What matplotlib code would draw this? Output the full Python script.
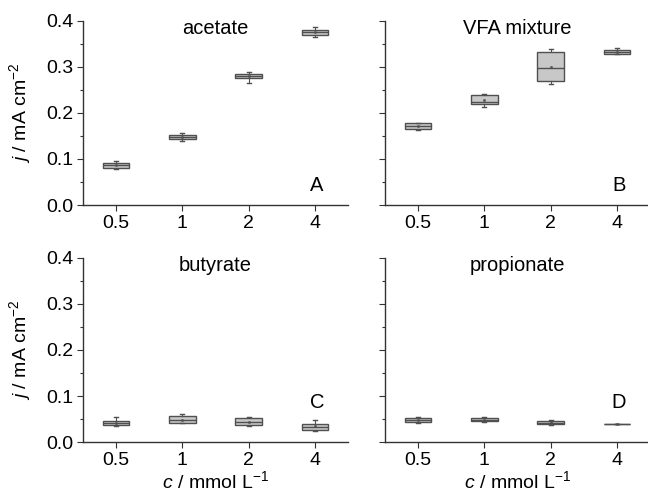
import matplotlib
matplotlib.use("Agg")
import matplotlib.pyplot as plt
from matplotlib.ticker import MultipleLocator, FormatStrFormatter

plt.rcParams['font.family'] = ['Liberation Sans', 'DejaVu Sans']
plt.rcParams['mathtext.fontset'] = 'custom'
plt.rcParams['mathtext.rm'] = 'Liberation Sans'
plt.rcParams['mathtext.it'] = 'Liberation Sans:italic'
plt.rcParams['axes.unicode_minus'] = False

conc_labels = ['0.5', '1', '2', '4']
panel_names = ['acetate', 'VFA mixture', 'butyrate', 'propionate']
panel_letters = ['A', 'B', 'C', 'D']

# per box: whislo, q1, med, q3, whishi, mean
acetate = [
    [0.078, 0.081, 0.086, 0.091, 0.096, 0.086],
    [0.140, 0.1435, 0.148, 0.152, 0.157, 0.148],
    [0.2645, 0.275, 0.279, 0.284, 0.289, 0.279],
    [0.364, 0.370, 0.375, 0.380, 0.386, 0.375],
]
vfa = [
    [0.163, 0.164, 0.172, 0.179, 0.179, 0.172],
    [0.212, 0.2196, 0.2246, 0.239, 0.241, 0.228],
    [0.263, 0.269, 0.297, 0.333, 0.338, 0.299],
    [0.3275, 0.328, 0.333, 0.337, 0.341, 0.333],
]
butyrate = [
    [0.035, 0.0374, 0.0417, 0.0468, 0.0554, 0.042],
    [0.041, 0.0424, 0.048, 0.0568, 0.061, 0.049],
    [0.0345, 0.0367, 0.044, 0.0518, 0.055, 0.044],
    [0.0245, 0.0266, 0.0338, 0.0388, 0.048, 0.034],
]
propionate = [
    [0.0425, 0.0445, 0.048, 0.0518, 0.054, 0.048],
    [0.043, 0.0454, 0.048, 0.0525, 0.054, 0.049],
    [0.038, 0.0395, 0.0425, 0.0467, 0.048, 0.043],
    [0.0388, 0.0393, 0.0395, 0.0397, 0.0402, 0.0395],
]
all_data = [acetate, vfa, butyrate, propionate]

fig = plt.figure(figsize=(6.48, 4.94), dpi=100)
w, h = 0.409, 0.373
positions = [
    (0.128, 0.585), (0.594, 0.585),
    (0.128, 0.105), (0.594, 0.105),
]
letter_y = [0.043, 0.043, 0.087, 0.087]

edge = '#505050'
for i, (x0, y0) in enumerate(positions):
    ax = fig.add_axes([x0, y0, w, h])
    stats = []
    for row in all_data[i]:
        stats.append(dict(whislo=row[0], q1=row[1], med=row[2], q3=row[3],
                          whishi=row[4], mean=row[5]))
    ax.bxp(stats, positions=[1, 2, 3, 4], widths=0.4, patch_artist=True,
           showmeans=True, showfliers=False, capwidths=0.06,
           boxprops=dict(facecolor='#c8c8c8', edgecolor=edge, linewidth=1),
           medianprops=dict(color=edge, linewidth=1),
           whiskerprops=dict(color=edge, linewidth=0.8),
           capprops=dict(color=edge, linewidth=1),
           meanprops=dict(marker='s', markersize=1.2, markerfacecolor=edge,
                          markeredgecolor=edge, markeredgewidth=0.5))
    ax.set_xlim(0.5, 4.5)
    ax.set_ylim(0, 0.4)
    ax.set_xticks([1, 2, 3, 4])
    ax.set_xticklabels(conc_labels)
    ax.yaxis.set_major_locator(MultipleLocator(0.1))
    ax.yaxis.set_minor_locator(MultipleLocator(0.05))
    ax.yaxis.set_major_formatter(FormatStrFormatter('%.1f'))
    ax.spines['top'].set_visible(False)
    ax.spines['right'].set_visible(False)
    for s in ('left', 'bottom'):
        ax.spines[s].set_color('#333333')
        ax.spines[s].set_linewidth(1)
    ax.tick_params(axis='both', which='major', labelsize=14, length=4,
                   width=0.8, color='#333333', pad=3)
    ax.tick_params(axis='y', which='minor', length=2.5, width=0.8, color='#333333')
    ax.tick_params(axis='x', which='minor', bottom=False)
    if i % 2 == 0:
        ax.set_ylabel(r'$j$ / mA cm$^{-2}$', fontsize=14, labelpad=9)
    else:
        ax.tick_params(axis='y', labelleft=False)
    if i >= 2:
        ax.set_xlabel(r'$c$ / mmol L$^{-1}$', fontsize=14, labelpad=1)
    ax.text(0.5, 0.383, panel_names[i], transform=ax.get_yaxis_transform(),
            ha='center', va='center', fontsize=14.5)
    ax.text(4.03, letter_y[i], panel_letters[i], ha='center', va='center',
            fontsize=14.5)

fig.savefig('out.png', dpi=100)
